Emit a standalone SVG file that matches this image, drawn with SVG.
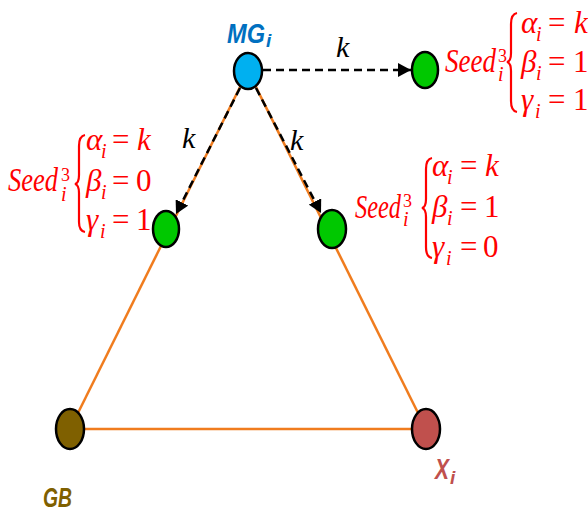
<svg xmlns="http://www.w3.org/2000/svg" width="588" height="512" viewBox="0 0 588 512">
<style>
.edge{stroke:#f07c1e;stroke-width:2.5;fill:none}
.arr{stroke:#000;stroke-width:2.5;stroke-dasharray:8 5;fill:none}
.node{stroke:#000;stroke-width:2.5}
.m{font-family:"Liberation Serif",serif;fill:#ff0000;font-size:31px}
.it{font-style:italic}
.big{font-size:33px}
.sub{font-size:20px;font-style:italic}
.sup{font-size:18px}
.brace{stroke:#ff0000;stroke-width:2.2;fill:none}
.lbl{font-family:"Liberation Sans",sans-serif;font-weight:bold;font-style:italic}
.k{font-family:"Liberation Serif",serif;font-style:italic;font-size:30px;fill:#000}
</style>
<defs>
<marker id="ah" markerWidth="14" markerHeight="14" refX="13" refY="7" orient="auto" markerUnits="userSpaceOnUse">
<path d="M0,0 L13,7 L0,14 z" fill="#000"/>
</marker>
</defs>
<g id="connectors">
<line class="edge" x1="248" y1="71" x2="70" y2="429"/>
<line class="edge" x1="248" y1="71" x2="426" y2="429"/>
<line class="edge" x1="70" y1="429" x2="426" y2="429"/>
<line class="arr" x1="263" y1="70" x2="411" y2="70" marker-end="url(#ah)"/>
<line class="arr" x1="240" y1="88" x2="176" y2="214" marker-end="url(#ah)"/>
<line class="arr" x1="256" y1="88" x2="321" y2="213" marker-end="url(#ah)"/>
<text class="k" x="336" y="57">k</text>
<text class="k" x="182" y="148">k</text>
<text class="k" x="290" y="150">k</text>
</g>
<g id="MG">
<ellipse class="node" cx="248" cy="71" rx="14" ry="18" fill="#00b0f0"/>
<text class="lbl" fill="#0070c0" font-size="28"><tspan x="227" y="43" textLength="38" lengthAdjust="spacingAndGlyphs">MG</tspan><tspan x="266" y="47" font-size="19">i</tspan></text>
</g>
<g id="seedTop">
<ellipse class="node" cx="425" cy="70" rx="13" ry="18" fill="#00c800"/>
<text class="m"><tspan class="it big" x="445" y="72" textLength="51" lengthAdjust="spacingAndGlyphs">Seed</tspan><tspan class="sup" x="498" y="62">3</tspan><tspan class="sub" x="498" y="81">i</tspan></text>
<path class="brace" d="M517,13 Q511,14 511,24 L511,53 Q511,61 507,62 Q511,63 511,71 L511,101 Q511,111 517,112"/>
<text class="m"><tspan class="it" x="521" y="33">α</tspan><tspan class="sub" x="536" y="41">i</tspan><tspan x="548" y="33">=</tspan><tspan class="it" x="574" y="33">k</tspan></text>
<text class="m"><tspan class="it" x="521" y="72">β</tspan><tspan class="sub" x="536" y="80">i</tspan><tspan x="548" y="72">=</tspan><tspan x="573" y="72">1</tspan></text>
<text class="m"><tspan class="it" x="521" y="110">γ</tspan><tspan class="sub" x="535" y="118">i</tspan><tspan x="548" y="110">=</tspan><tspan x="573" y="110">1</tspan></text>
</g>
<g id="seedLeft">
<ellipse class="node" cx="166" cy="229" rx="13" ry="18" fill="#00c800"/>
<text class="m"><tspan class="it big" x="8" y="191" textLength="50" lengthAdjust="spacingAndGlyphs">Seed</tspan><tspan class="sup" x="61" y="181">3</tspan><tspan class="sub" x="61" y="201">i</tspan></text>
<path class="brace" d="M85,135 Q79,136 79,146 L79,175 Q79,183 75,184 Q79,185 79,193 L79,222 Q79,231 85,232"/>
<text class="m"><tspan class="it" x="86" y="150">α</tspan><tspan class="sub" x="101" y="158">i</tspan><tspan x="112" y="150">=</tspan><tspan class="it" x="137" y="150">k</tspan></text>
<text class="m"><tspan class="it" x="86" y="191">β</tspan><tspan class="sub" x="101" y="199">i</tspan><tspan x="112" y="191">=</tspan><tspan x="136" y="191">0</tspan></text>
<text class="m"><tspan class="it" x="86" y="230">γ</tspan><tspan class="sub" x="100" y="238">i</tspan><tspan x="112" y="230">=</tspan><tspan x="136" y="230">1</tspan></text>
</g>
<g id="seedRight">
<ellipse class="node" cx="332" cy="229" rx="14" ry="19" fill="#00c800"/>
<text class="m"><tspan class="it big" x="355" y="218" textLength="46" lengthAdjust="spacingAndGlyphs">Seed</tspan><tspan class="sup" x="403" y="207">3</tspan><tspan class="sub" x="403" y="226">i</tspan></text>
<path class="brace" d="M432,158 Q426,159 426,169 L426,199 Q426,207 422,208 Q426,209 426,217 L426,247 Q426,257 432,258"/>
<text class="m"><tspan class="it" x="432" y="176">α</tspan><tspan class="sub" x="447" y="184">i</tspan><tspan x="460" y="176">=</tspan><tspan class="it" x="485" y="176">k</tspan></text>
<text class="m"><tspan class="it" x="432" y="217">β</tspan><tspan class="sub" x="447" y="225">i</tspan><tspan x="460" y="217">=</tspan><tspan x="484" y="217">1</tspan></text>
<text class="m"><tspan class="it" x="432" y="257">γ</tspan><tspan class="sub" x="446" y="265">i</tspan><tspan x="460" y="257">=</tspan><tspan x="483" y="257">0</tspan></text>
</g>
<g id="GB">
<ellipse class="node" cx="70" cy="429" rx="14" ry="20" fill="#7f6000"/>
<text class="lbl" fill="#7f6000" x="43" y="507" font-size="28" textLength="29" lengthAdjust="spacingAndGlyphs">GB</text>
</g>
<g id="Xi">
<ellipse class="node" cx="426" cy="429" rx="14" ry="20" fill="#c0504d"/>
<text class="lbl" fill="#c0504d" font-size="29"><tspan x="435" y="479" textLength="14" lengthAdjust="spacingAndGlyphs">X</tspan><tspan x="450" y="484" font-size="19">i</tspan></text>
</g>
</svg>
